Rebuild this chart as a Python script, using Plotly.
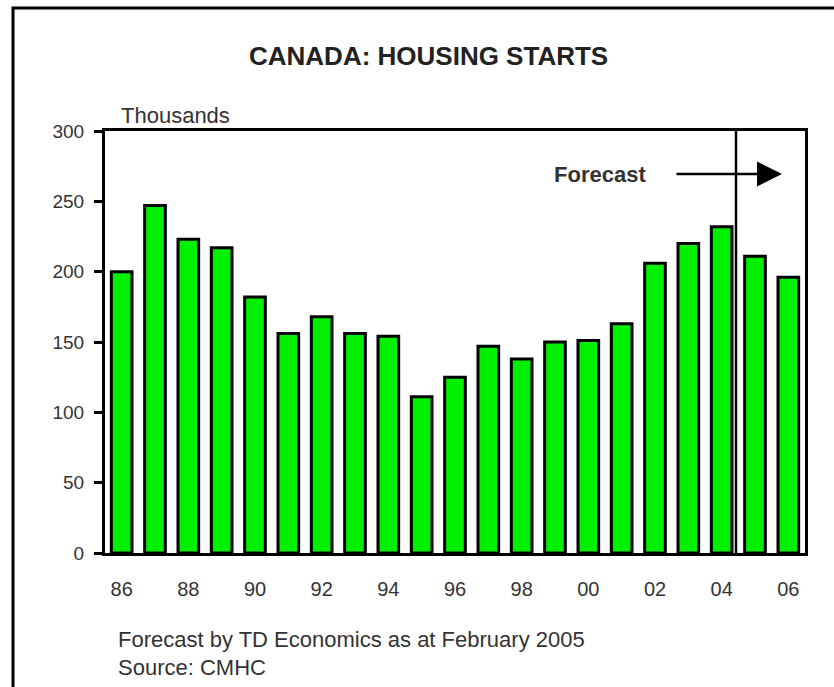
import plotly.graph_objects as go

years = ["86", "87", "88", "89", "90", "91", "92", "93", "94", "95", "96",
         "97", "98", "99", "00", "01", "02", "03", "04", "05", "06"]
starts = [200, 247, 223, 217, 182, 156, 168, 156, 154, 111, 125,
          147, 138, 150, 151, 163, 206, 220, 232, 211, 196]
tick_years = years[::2]
y_ticks = [0, 50, 100, 150, 200, 250, 300]

idx = list(range(len(years)))
FONT = "Liberation Sans, Arial, sans-serif"

fig = go.Figure()
fig.add_trace(go.Bar(
    x=idx, y=starts, width=0.62,
    marker=dict(color="#00F000", line=dict(color="#000000", width=3)),
    hoverinfo="x+y", showlegend=False,
))

W, H = 834, 687
L, R, T, B = 105, 805, 131, 553

fig.update_layout(
    width=W, height=H,
    margin=dict(l=L, r=W - R, t=T, b=H - B, pad=0),
    paper_bgcolor="white", plot_bgcolor="white",
    font=dict(family=FONT, color="#222"),
    bargap=0.3,
    xaxis=dict(
        range=[-0.5, len(years) - 0.5],
        tickmode="array", tickvals=idx[::2], ticktext=tick_years,
        ticks="", showgrid=False, zeroline=False,
        showline=True, linecolor="black", linewidth=3, mirror=True,
        tickfont=dict(size=20, color="#333"), ticklabelstandoff=16,
        fixedrange=True,
    ),
    yaxis=dict(
        range=[0, 300], tickmode="array", tickvals=y_ticks,
        ticks="outside", ticklen=8, tickwidth=3, tickcolor="black",
        showgrid=False, zeroline=False,
        showline=True, linecolor="black", linewidth=3, mirror=True,
        tickfont=dict(size=19, color="#333"), ticklabelstandoff=6,
        fixedrange=True,
    ),
)

def px_x(x):
    return (x - L) / (R - L)

def px_y(y):
    return (B - y) / (B - T)

# Outer frame
fig.add_shape(type="rect", xref="paper", yref="paper",
              x0=px_x(13), x1=px_x(860), y0=px_y(8), y1=px_y(720),
              line=dict(color="black", width=3), layer="below")

# Forecast divider
fig.add_shape(type="line", xref="x", yref="paper",
              x0=18.43, x1=18.43, y0=0, y1=1,
              line=dict(color="black", width=2.5))

ann = [
    dict(text="<b>CANADA: HOUSING STARTS</b>", x=px_x(428), y=px_y(56),
         xanchor="center", yanchor="middle", font=dict(size=26, color="#222")),
    dict(text="Thousands", x=px_x(119), y=px_y(115),
         xanchor="left", yanchor="middle", font=dict(size=22, color="#333")),
    dict(text="<b>Forecast</b>", x=px_x(648), y=px_y(174),
         xanchor="right", yanchor="middle", font=dict(size=22, color="#333")),
    dict(text="Forecast by TD Economics as at February 2005", x=px_x(116), y=px_y(639),
         xanchor="left", yanchor="middle", font=dict(size=22, color="#333")),
    dict(text="Source: CMHC", x=px_x(116), y=px_y(667),
         xanchor="left", yanchor="middle", font=dict(size=22, color="#333")),
]
for a in ann:
    fig.add_annotation(xref="paper", yref="paper", showarrow=False, **a)

fig.add_annotation(xref="paper", yref="paper", x=px_x(782), y=px_y(174),
                   ax=-107, ay=0, text="", showarrow=True,
                   arrowhead=2, arrowsize=2, arrowwidth=2.5, arrowcolor="black")

fig.write_html("out.html")
